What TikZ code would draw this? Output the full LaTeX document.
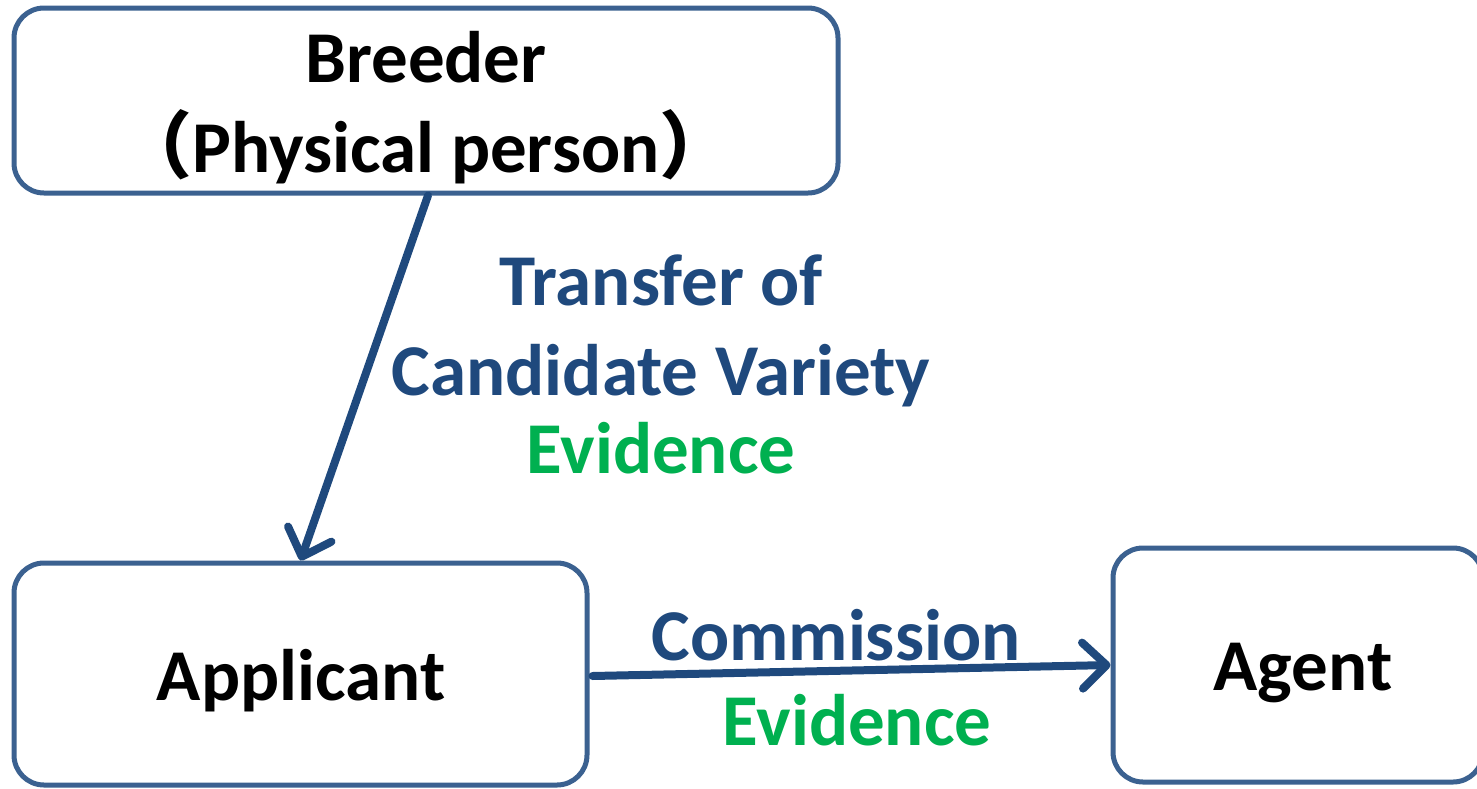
\documentclass[tikz,border=0pt]{standalone}
\usepackage{fontspec}
\setmainfont{Carlito}
\newfontfamily\cjkfont{Noto Sans CJK SC}
\usetikzlibrary{arrows.meta,calc}
\definecolor{boxblue}{HTML}{3B6190}
\definecolor{arrowblue}{HTML}{1F497D}
\definecolor{evgreen}{HTML}{00B050}
\begin{document}
\begin{tikzpicture}[x=1pt,y=-1pt,
  box/.style={draw=boxblue, line width=5pt, rounded corners=30pt, fill=white, inner sep=0pt},
  lbl/.style={anchor=base, inner sep=0pt, font=\fontsize{73}{80}\selectfont\bfseries},
  conn/.style={draw=arrowblue, line width=8pt, line cap=round,
    -{Straight Barb[length=24pt, width=46pt, line width=8pt, round]}}]
\useasboundingbox (0,0) rectangle (1477,788);
\node[box, minimum width=824pt, minimum height=185pt] (breeder) at (426,100.5) {};
\node[box, minimum width=573pt, minimum height=222pt] (applicant) at (300.5,674) {};
\node[box, minimum width=370pt, minimum height=234pt] (agent) at (1298,665) {};
\node[lbl] (t1) at (426,82) {Breeder};
\node[lbl] (t2) at (426,172) {{\cjkfont（}Physical person{\cjkfont ）}};
\node[lbl] (t3) at (301,700) {Applicant};
\node[lbl] (t4) at (1303,690) {Agent};
\node[lbl, text=arrowblue] (t5) at (661,305) {Transfer of};
\node[lbl, text=arrowblue] (t6) at (661,395) {Candidate Variety};
\node[lbl, text=evgreen] (t7) at (661,473) {Evidence};
\node[lbl, text=arrowblue] (t8) at (836,660) {Commission};
\node[lbl, text=evgreen] (t9) at (857,745) {Evidence};
\draw[conn] ($(breeder.south)+(2,0)$) -- (applicant.north);
\draw[conn] ($(applicant.east)+(3,2)$) -- (agent.west);
\end{tikzpicture}
\end{document}
